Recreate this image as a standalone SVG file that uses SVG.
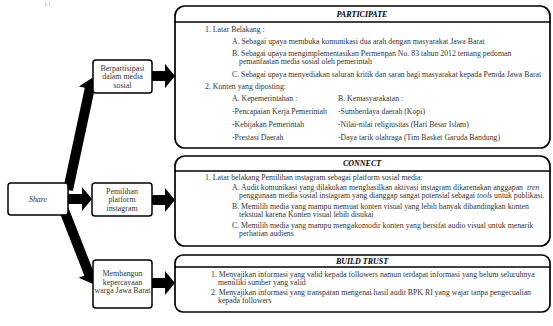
<svg xmlns="http://www.w3.org/2000/svg" width="553" height="326" viewBox="0 0 553 326">
<style>
.bg{fill:#ffffff}
.big{fill:#ffffff;stroke:#000;stroke-width:1.7}
.small{fill:#ffffff;stroke:#000;stroke-width:1.5}
.hdr{stroke:#000;stroke-width:1.4}
.arr{fill:#000}
text{font-family:"Liberation Serif","Times New Roman",serif;fill:#333}
.t{font-size:7.8px}
.ttl{font-size:8px;font-weight:bold;font-style:italic;text-anchor:middle;fill:#000}
.lbl{font-size:7.9px;text-anchor:middle}
.it{font-style:italic}
</style>
<rect class="bg" x="0" y="0" width="553" height="326"/>
<path d="M45.5,1 v4 h4 v-4" fill="none" stroke="#c8c8c8" stroke-width="0.8"/>
<g id="connectors">
  <polygon class="arr" points="72.9,191 63.1,189 84.8,87.8 78.9,86.5 92,78 100.5,91.1 94.6,89.8"/>
  <polygon class="arr" points="66.7,203.2 57.4,206.8 84.3,275.6 78.8,277.8 93,284 99.2,269.8 93.7,272"/>
  <polygon class="arr" points="66,194 82,194 82,187 92,199 82,211 82,204 66,204"/>
  <polygon class="arr" points="151,71 165,71 165,64 175,76 165,88 165,81 151,81"/>
  <polygon class="arr" points="151,195 165,195 165,188 175,200 165,212 165,205 151,205"/>
  <polygon class="arr" points="151,278 165,278 165,271 175,283 165,295 165,288 151,288"/>
</g>
<g id="share">
  <rect class="small" x="8" y="183" width="60" height="32" rx="3"/>
  <text class="lbl it" x="38" y="202">Share</text>
</g>
<g id="berpartisipasi">
  <rect class="small" x="93" y="60" width="59" height="33" rx="3"/>
  <text class="lbl" x="122.5" y="70.5">Berpartisipasi</text>
  <text class="lbl" x="122.5" y="79">dalam media</text>
  <text class="lbl" x="122.5" y="87.5">sosial</text>
</g>
<g id="pemilihan">
  <rect class="small" x="92" y="183" width="60" height="33" rx="3"/>
  <text class="lbl" x="122" y="193.5">Pemilihan</text>
  <text class="lbl" x="122" y="202">platform</text>
  <text class="lbl" x="122" y="210.5">instagram</text>
</g>
<g id="membangun">
  <rect class="small" x="93" y="260" width="59" height="48" rx="3"/>
  <text class="lbl" x="122.5" y="276">Membangun</text>
  <text class="lbl" x="122.5" y="284.5">kepercayaan</text>
  <text class="lbl" x="122.5" y="293">warga Jawa Barat</text>
</g>
<g id="participate">
  <rect class="big" x="175" y="6" width="375" height="142" rx="10"/>
  <line class="hdr" x1="175" y1="22" x2="550" y2="22"/>
  <text class="ttl" x="362" y="17">PARTICIPATE</text>
  <text class="t" x="205" y="31.5">1. Latar Belakang :</text>
  <text class="t" x="232" y="43.5">A. Sebagai upaya membuka komunikasi dua arah dengan masyarakat Jawa Barat</text>
  <text class="t" x="232" y="55.5">B. Sebagai upaya mengimplementasikan Permenpan No. 83 tahun 2012 tentang pedoman</text>
  <text class="t" x="239" y="64">pemanfaatan media sosial oleh pemerintah</text>
  <text class="t" x="232" y="76.5">C. Sebagai upaya menyediakan saluran kritik dan saran bagi masyarakat kepada Pemda Jawa Barat</text>
  <text class="t" x="205" y="88.5">2. Konten yang diposting:</text>
  <text class="t" x="232" y="100.5">A. Kepemerintahan :</text>
  <text class="t" x="338" y="100.5">B. Kemasyarakatan :</text>
  <text class="t" x="232" y="113.5">-Pencapaian Kerja Pemerintah</text>
  <text class="t" x="338" y="113.5">-Sumberdaya daerah (Kopi)</text>
  <text class="t" x="232" y="126.5">-Kebijakan Pemerintah</text>
  <text class="t" x="338" y="126.5">-Nilai-nilai religiusitas (Hari Besar Islam)</text>
  <text class="t" x="232" y="139.5">-Prestasi Daerah</text>
  <text class="t" x="338" y="139.5">-Daya tarik olahraga (Tim Basket Garuda Bandung)</text>
</g>
<g id="connect">
  <rect class="big" x="175" y="156" width="375" height="90" rx="10"/>
  <line class="hdr" x1="175" y1="171" x2="550" y2="171"/>
  <text class="ttl" x="362" y="166">CONNECT</text>
  <text class="t" x="205" y="179.5">1. Latar belakang Pemilihan instagram sebagai platform sosial media:</text>
  <text class="t" x="232" y="189.5">A. Audit komunikasi yang dilakukan menghasilkan aktivasi instagram dikarenakan anggapan <tspan class="it" dx="2">tren</tspan></text>
  <text class="t" x="239" y="198">penggunaan media sosial instagram yang dianggap sangat potensial sebagai <tspan class="it">tools</tspan> untuk publikasi.</text>
  <text class="t" x="232" y="208.5">B. Memilih media yang mampu memuat konten visual yang lebih banyak dibandingkan konten</text>
  <text class="t" x="239" y="217">tekstual karena Konten visual lebih disukai</text>
  <text class="t" x="232" y="227.5">C. Memilih media yang mampu mengakomodir konten yang bersifat audio visual untuk menarik</text>
  <text class="t" x="239" y="236">perhatian audiens</text>
</g>
<g id="build-trust">
  <rect class="big" x="175" y="255" width="375" height="57" rx="8"/>
  <line class="hdr" x1="175" y1="267" x2="550" y2="267"/>
  <text class="ttl" x="362" y="264">BUILD TRUST</text>
  <text class="t" x="211" y="276.5">1. Menyajikan informasi yang valid kepada followers namun terdapat informasi yang belum seluruhnya</text>
  <text class="t" x="218" y="285">memiliki sumber yang valid</text>
  <text class="t" x="211" y="294.5">2. Menyajikan informasi yang transparan mengenai hasil audit BPK RI yang wajar tanpa pengecualian</text>
  <text class="t" x="218" y="303">kepada followers</text>
</g>
</svg>
